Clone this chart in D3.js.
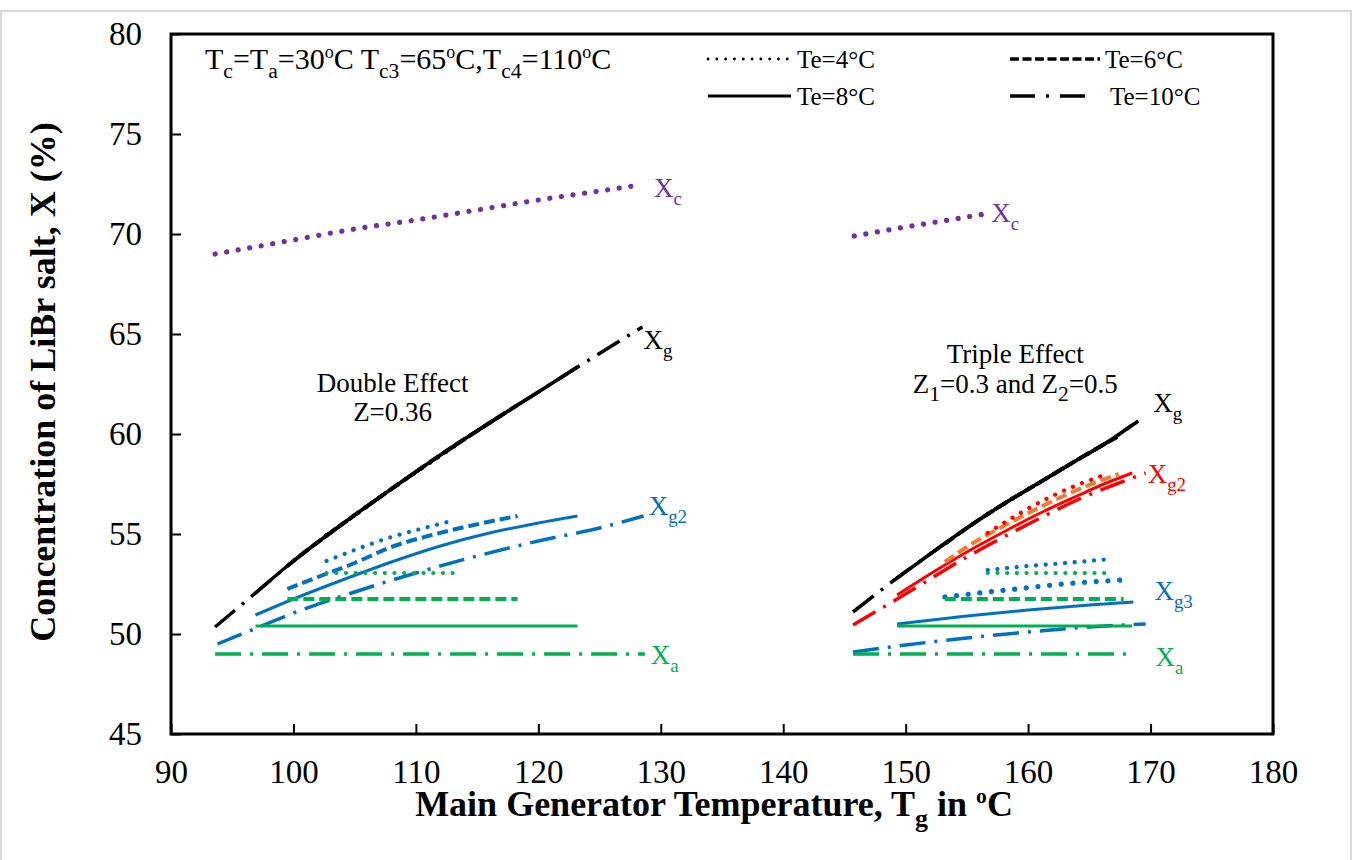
<!doctype html>
<html>
<head>
    <script src="https://d3js.org/d3.v7.min.js"></script>
</head>
<style>
    body { margin: 0; background: #fff; }
    svg text { font-family: "Liberation Serif", "Times New Roman", serif; }
</style>
<body>
<div id="chart"></div>
<script>
    // axis ticks
    var xTicks = [90, 100, 110, 120, 130, 140, 150, 160, 170, 180];
    var yTicks = [45, 50, 55, 60, 65, 70, 75, 80];
    var teLabels = ["Te=4°C", "Te=6°C", "Te=8°C", "Te=10°C"];

    // ---- Double effect (Z=0.36), [Tg, X] ----
    var dblXc = [[93.6, 69.0], [100, 69.7], [105, 70.25], [110, 70.7], [115, 71.2], [120, 71.7], [125, 72.15], [128.3, 72.45]];

    var dblXgTe4  = [[102.7, 54.95], [104, 55.5], [108, 57.25], [111, 58.5], [113.3, 59.45]];
    var dblXgTe6  = [[99.5, 53.4], [100, 53.65], [104, 55.5], [108, 57.25], [112, 58.95], [116, 60.55], [118.3, 61.45]];
    var dblXgTe8  = [[96.9, 52.05], [100, 53.65], [104, 55.5], [108, 57.25], [112, 58.95], [116, 60.55], [120, 62.1], [123.2, 63.35]];
    var dblXgTe10 = [[93.6, 50.35], [96.9, 52.05], [100, 53.65], [104, 55.5], [108, 57.25], [112, 58.95], [116, 60.55], [120, 62.1], [124, 63.65], [128.5, 65.35]];

    var dblXg2Te4  = [[102.7, 53.65], [105, 54.2], [108, 54.85], [111, 55.35], [113.2, 55.7]];
    var dblXg2Te6  = [[99.5, 52.25], [102, 52.85], [105, 53.55], [108, 54.35], [111, 54.9], [114, 55.35], [118.3, 55.9]];
    var dblXg2Te8  = [[96.9, 50.95], [100, 51.75], [104, 52.7], [108, 53.6], [112, 54.4], [116, 55.05], [120, 55.55], [123.2, 55.9]];
    var dblXg2Te10 = [[93.8, 49.5], [97, 50.3], [100, 51.05], [105, 52.1], [110, 53.05], [115, 53.9], [120, 54.65], [125, 55.3], [128.6, 55.9]];

    var dblXaTe4  = [[102.7, 53.05], [113.6, 53.05]];
    var dblXaTe6  = [[99.5, 51.75], [118.3, 51.75]];
    var dblXaTe8  = [[96.9, 50.4], [123.2, 50.4]];
    var dblXaTe10 = [[93.6, 49.0], [128.7, 49.0]];

    // ---- Triple effect (Z1=0.3, Z2=0.5) ----
    var triXc = [[145.8, 69.9], [150, 70.35], [153, 70.65], [156.5, 71.0]];

    var triXgTe4  = [[156.7, 56.0], [158, 56.5], [161, 57.6], [164, 58.7], [166.5, 59.6]];
    var triXgTe6  = [[153.2, 54.5], [155, 55.3], [158, 56.5], [161, 57.6], [164, 58.7], [167.4, 59.9]];
    var triXgTe8  = [[149.3, 52.8], [152, 54.0], [155, 55.3], [158, 56.5], [161, 57.6], [164, 58.7], [166.5, 59.6], [168.5, 60.45]];
    var triXgTe10 = [[145.7, 51.1], [149.3, 52.8], [152, 54.0], [155, 55.3], [158, 56.5], [161, 57.6], [164, 58.7], [166.5, 59.6], [169, 60.65]];

    var triXg2Te4  = [[156.7, 55.05], [158, 55.55], [161, 56.6], [164, 57.45], [166.5, 58.0]];
    var triXg2Te6  = [[153.2, 53.6], [155, 54.35], [158, 55.4], [161, 56.35], [164, 57.2], [167.4, 58.0]];
    var triXg2Te8  = [[149.3, 51.95], [152, 53.0], [155, 54.1], [158, 55.1], [161, 56.05], [164, 56.9], [166, 57.45], [168.5, 58.05]];
    var triXg2Te10 = [[145.7, 50.45], [149.3, 51.75], [152, 52.75], [155, 53.85], [158, 54.85], [161, 55.8], [164, 56.7], [167, 57.45], [169.6, 58.05]];

    var triXg3Te4  = [[156.7, 53.2], [160, 53.4], [163, 53.55], [166.7, 53.75]];
    var triXg3Te6  = [[153.2, 51.85], [156, 52.05], [159, 52.25], [162, 52.45], [165, 52.6], [167.8, 52.7]];
    var triXg3Te8  = [[149.3, 50.5], [155, 50.9], [160, 51.2], [165, 51.45], [168.6, 51.6]];
    var triXg3Te10 = [[145.7, 49.1], [150, 49.45], [155, 49.8], [160, 50.1], [165, 50.35], [169.6, 50.5]];

    var triXaTe4  = [[156.7, 53.05], [166.6, 53.05]];
    var triXaTe6  = [[153.2, 51.75], [167.8, 51.75]];
    var triXaTe8  = [[149.3, 50.4], [168.5, 50.4]];
    var triXaTe10 = [[145.7, 49.0], [168.6, 49.0]];

    // ---- styles ----
    var colors = { purple: "#7030A0", black: "#000000", blue: "#0070C0", green: "#00B050", red: "#FF0000", orange: "#ED7D31" };
    var dashes = {
        dot:     { w: 4.2, dash: "0.1 9.6", cap: "round" },
        bigdot:  { w: 5.2, dash: "0.1 11.6", cap: "round" },
        dash:    { w: 4,   dash: "11 5",    cap: "butt" },
        solid:   { w: 3,   dash: null,      cap: "butt" },
        dashdot: { w: 3.5, dash: "26 9 3 9", cap: "butt" }
    };

    var series = [
        { d: dblXc, c: "purple", s: "bigdot" },
        { d: triXc, c: "purple", s: "bigdot" },
        { d: dblXgTe10, c: "black", s: "dashdot" }, { d: dblXgTe8, c: "black", s: "solid" },
        { d: dblXgTe6, c: "black", s: "dash" }, { d: dblXgTe4, c: "black", s: "dot" },
        { d: triXgTe10, c: "black", s: "dashdot" }, { d: triXgTe8, c: "black", s: "solid" },
        { d: triXgTe6, c: "black", s: "dash" }, { d: triXgTe4, c: "black", s: "dot" },
        { d: dblXg2Te10, c: "blue", s: "dashdot" }, { d: dblXg2Te8, c: "blue", s: "solid" },
        { d: dblXg2Te6, c: "blue", s: "dash" }, { d: dblXg2Te4, c: "blue", s: "dot" },
        { d: triXg2Te10, c: "red", s: "dashdot" }, { d: triXg2Te8, c: "red", s: "solid" },
        { d: triXg2Te6, c: "orange", s: "dash" }, { d: triXg2Te4, c: "red", s: "dot" },
        { d: triXg3Te10, c: "blue", s: "dashdot" }, { d: triXg3Te8, c: "blue", s: "solid" },
        { d: triXg3Te6, c: "blue", s: "bigdot" }, { d: triXg3Te4, c: "blue", s: "dot" },
        { d: dblXaTe10, c: "green", s: "dashdot" }, { d: dblXaTe8, c: "green", s: "solid" },
        { d: dblXaTe6, c: "green", s: "dash" }, { d: dblXaTe4, c: "green", s: "dot" },
        { d: triXaTe10, c: "green", s: "dashdot" }, { d: triXaTe8, c: "green", s: "solid" },
        { d: triXaTe6, c: "green", s: "dash" }, { d: triXaTe4, c: "green", s: "dot" }
    ];

    var width = 1353, height = 860;
    var plot = { left: 171, top: 34, right: 1273, bottom: 734 };

    var svg = d3.select("#chart").append("svg")
        .attr("width", width).attr("height", height);

    // chart area border
    svg.append("rect").attr("x", 1).attr("y", 11).attr("width", 1350).attr("height", 870)
        .attr("fill", "none").attr("stroke", "#d9d9d9").attr("stroke-width", 2);

    var x = d3.scaleLinear().domain([90, 180]).range([plot.left, plot.right]);
    var y = d3.scaleLinear().domain([45, 80]).range([plot.bottom, plot.top]);

    var xAxis = svg.append("g").attr("transform", "translate(0," + plot.bottom + ")")
        .call(d3.axisBottom(x).tickValues(xTicks).tickSize(-10).tickPadding(26));
    var yAxis = svg.append("g").attr("transform", "translate(" + plot.left + ",0)")
        .call(d3.axisLeft(y).tickValues(yTicks).tickSize(-10).tickPadding(29));
    [xAxis, yAxis].forEach(function (a) {
        a.select(".domain").remove();
        a.selectAll(".tick line").attr("stroke", "#000").attr("stroke-width", 2);
        a.selectAll(".tick text").style("font-size", "33px").style("fill", "#000");
    });

    svg.append("rect").attr("x", plot.left).attr("y", plot.top)
        .attr("width", plot.right - plot.left).attr("height", plot.bottom - plot.top)
        .attr("fill", "none").attr("stroke", "#000").attr("stroke-width", 3);

    var line = d3.line()
        .x(function (d) { return x(d[0]); })
        .y(function (d) { return y(d[1]); })
        .curve(d3.curveMonotoneX);

    series.forEach(function (s) {
        var st = dashes[s.s];
        svg.append("path").datum(s.d)
            .attr("d", line)
            .attr("fill", "none")
            .attr("stroke", colors[s.c])
            .attr("stroke-width", s.c === "black" ? Math.max(st.w, 3.5) : st.w)
            .attr("stroke-dasharray", st.dash)
            .attr("stroke-linecap", st.cap);
    });

    // rich text helper: parts = [[text, "n"|"sub"|"sup"], ...]
    function rich(g, px, py, parts, size, color, anchor, weight, subRatio) {
        var r = subRatio || 0.75;
        var t = g.append("text").attr("x", px).attr("y", py)
            .style("font-size", size + "px").style("fill", color || "#000")
            .attr("text-anchor", anchor || "start")
            .style("font-weight", weight || "normal");
        var shift = 0;
        parts.forEach(function (p) {
            var target = p[1] === "sub" ? size * 0.3 : p[1] === "sup" ? -size * 0.36 : 0;
            var fs = p[1] === "n" ? size : p[1] === "sup" ? size * 0.6 : size * r;
            t.append("tspan").attr("dy", target - shift)
                .style("font-size", fs + "px")
                .text(p[0]);
            shift = target;
        });
        return t;
    }

    // curve labels, anchored to series end points
    function endLabel(data, dx, dy, sub, color) {
        var p = data[data.length - 1];
        rich(svg, x(p[0]) + dx, y(p[1]) + dy, [["X", "n"], [sub, "sub"]], 27, color, "start", "normal", 0.7);
    }
    endLabel(dblXc, 14, 12, "c", colors.purple);
    endLabel(triXc, 6, 8, "c", colors.purple);
    endLabel(dblXgTe10, 1, 22, "g", colors.black);
    endLabel(triXgTe10, 15, -9, "g", colors.black);
    endLabel(dblXg2Te10, 5, -1, "g2", colors.blue);
    endLabel(triXg2Te10, 2, 10, "g2", colors.red);
    endLabel(triXg3Te8, 21, -2, "g3", colors.blue);
    endLabel(dblXaTe10, 6, 10, "a", colors.green);
    endLabel(triXaTe10, 22, 12, "a", colors.green);

    // annotations
    rich(svg, x(108.1), y(62.1), [["Double Effect", "n"]], 27, "#000", "middle");
    rich(svg, x(108.1), y(60.65), [["Z=0.36", "n"]], 27, "#000", "middle");
    rich(svg, x(158.95), y(63.55), [["Triple Effect", "n"]], 27, "#000", "middle");
    rich(svg, x(158.95), y(62.05), [["Z", "n"], ["1", "sub"], ["=0.3 and Z", "n"], ["2", "sub"], ["=0.5", "n"]], 27, "#000", "middle", "normal", 0.8);

    rich(svg, 205, 69, [["T", "n"], ["c", "sub"], ["=T", "n"], ["a", "sub"], ["=30", "n"], ["o", "sup"], ["C T", "n"],
        ["c3", "sub"], ["=65", "n"], ["o", "sup"], ["C,T", "n"], ["c4", "sub"], ["=110", "n"], ["o", "sup"], ["C", "n"]], 30, "#000", "start", "normal", 0.72);

    // legend
    var legendItems = [
        { s: "dot",     x: 708,  y: 59, len: 84, tx: 797 },
        { s: "dash",    x: 1010, y: 59, len: 90, tx: 1105 },
        { s: "solid",   x: 708,  y: 96, len: 83, tx: 797 },
        { s: "dashdot", x: 1010, y: 96, len: 77, tx: 1110 }
    ];
    var legendDash = { dot: "0.1 8.7", dash: "9 3.5", solid: null, dashdot: "25 11 3 11" };
    var legendW = { dot: 2.8, dash: 3.6, solid: 3, dashdot: 3.5 };
    legendItems.forEach(function (it, i) {
        svg.append("line")
            .attr("x1", it.x).attr("x2", it.x + it.len)
            .attr("y1", it.y).attr("y2", it.y)
            .attr("stroke", "#000").attr("stroke-width", legendW[it.s])
            .attr("stroke-dasharray", legendDash[it.s])
            .attr("stroke-linecap", it.s === "dot" ? "round" : "butt");
        rich(svg, it.tx, it.y + 9, [[teLabels[i], "n"]], 25);
    });

    // axis titles
    rich(svg, 714, 816, [["Main Generator Temperature, T", "n"], ["g", "sub"], [" in ", "n"], ["o", "sup"], ["C", "n"]], 36, "#000", "middle", "bold", 0.72);
    var yt = rich(svg, 0, 0, [["Concentration of LiBr salt, X (%)", "n"]], 36, "#000", "middle", "bold");
    yt.attr("transform", "translate(55,382) rotate(-90)");
</script>
</body>
</html>
